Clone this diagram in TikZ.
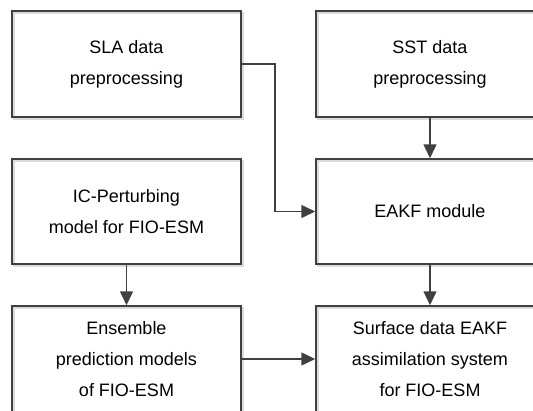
\documentclass[tikz,border=0pt]{standalone}
\usepackage{fontspec}
\setmainfont{Liberation Sans}
\usetikzlibrary{arrows.meta}
\definecolor{edge}{HTML}{404040}
\definecolor{shade}{HTML}{DCDCDC}
\tikzset{
  box/.style={draw=edge, line width=1.5pt, align=center, inner sep=0pt,
    font=\fontsize{18}{31}\selectfont, text=black,
    preaction={draw=shade, line width=2pt, transform canvas={shift={(1.8pt,-1.8pt)}}}},
  leftbox/.style={box, minimum width=229pt},
  rightbox/.style={box, minimum width=228pt},
  flow/.style={draw=edge, line width=1.5pt, -{Triangle[length=14pt,width=13pt]}}
}
\begin{document}
\begin{tikzpicture}[x=1pt,y=-1pt]
  \useasboundingbox (0,0) rectangle (533,410);
  \clip (0,0) rectangle (533,410);
  % preprocessing stage
  \node[leftbox, minimum height=106pt] (sla) at (126.5,64) {SLA data\\preprocessing};
  \node[rightbox, minimum height=106pt] (sst) at (430,64) {SST data\\preprocessing};
  % model and filter
  \node[leftbox, minimum height=105pt] (ic) at (126.5,211.5) {IC-Perturbing\\model for FIO-ESM};
  \node[rightbox, minimum height=105pt] (eakf) at (430,211.5) {EAKF module};
  % ensemble and assimilation system
  \node[leftbox, minimum height=106pt] (ens) at (126.5,359) {Ensemble\\prediction models\\of FIO-ESM};
  \node[rightbox, minimum height=106pt] (sys) at (430,359) {Surface data EAKF\\assimilation system\\for FIO-ESM};
  % connectors
  \draw[flow] (sla.east) -- ++(33,0) |- (eakf.west);
  \draw[flow] (sst) -- (eakf);
  \draw[flow] (ic) -- (ens);
  \draw[flow] (eakf) -- (sys);
  \draw[flow] (ens) -- (sys);
\end{tikzpicture}
\end{document}
